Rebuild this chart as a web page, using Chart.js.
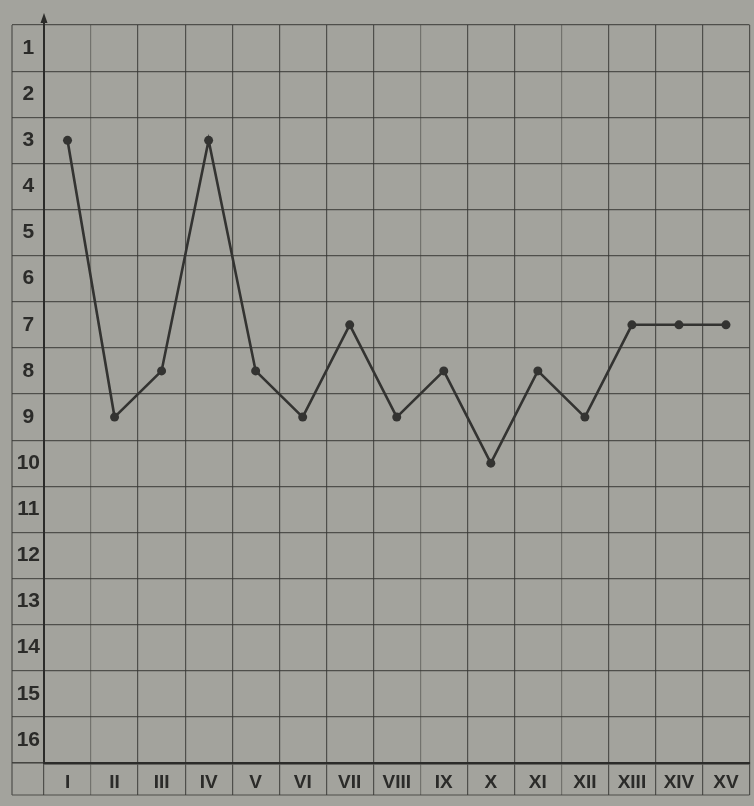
<!DOCTYPE html>
<html>
<head>
<meta charset="utf-8">
<script src="https://cdn.jsdelivr.net/npm/chart.js@4/dist/chart.umd.min.js"></script>
<style>
  html, body { margin: 0; padding: 0; background: #a3a39d; }
  #wrap { width: 754px; height: 806px; }
</style>
</head>
<body>
<div id="wrap"><canvas id="chart"></canvas></div>
<script>
// ── Data ──────────────────────────────────────────────────────
const periods = ['I', 'II', 'III', 'IV', 'V', 'VI', 'VII', 'VIII', 'IX', 'X', 'XI', 'XII', 'XIII', 'XIV', 'XV'];
const places  = ['1', '2', '3', '4', '5', '6', '7', '8', '9', '10', '11', '12', '13', '14', '15', '16'];
const rank    = [3, 9, 8, 3, 8, 9, 7, 9, 8, 10, 8, 9, 7, 7, 7];

const INK = '#2b2b29';
const GRID = 'rgba(55,55,52,0.78)';
const GRID_FAINT = 'rgba(55,55,52,0.45)';
const FONT = "'Liberation Sans', Arial, sans-serif";

// Faint column lines, as on the photographed sheet
const faintCols = [1, 8, 11];

// Outer frame of the table + arrow on the vertical axis
const frame = {
  id: 'frame',
  afterDraw(chart) {
    const { ctx, chartArea: { left, right, top, bottom } } = chart;
    const x0 = 12, yb = bottom + 32;
    ctx.save();
    ctx.strokeStyle = GRID;
    ctx.lineWidth = 1.2;
    ctx.beginPath();
    ctx.moveTo(x0, top); ctx.lineTo(x0, yb);
    ctx.moveTo(x0, yb); ctx.lineTo(right, yb);
    ctx.moveTo(x0, bottom); ctx.lineTo(left, bottom);
    ctx.stroke();

    ctx.strokeStyle = INK;
    ctx.lineWidth = 2;
    ctx.beginPath();
    ctx.moveTo(left, top); ctx.lineTo(left, top - 8);
    ctx.stroke();
    ctx.fillStyle = INK;
    ctx.beginPath();
    ctx.moveTo(left, top - 12);
    ctx.lineTo(left - 3.5, top - 2);
    ctx.lineTo(left + 3.5, top - 2);
    ctx.closePath();
    ctx.fill();
    ctx.restore();
  },
};

new Chart(document.getElementById('chart'), {
  type: 'line',
  data: {
    labels: periods,
    datasets: [
      {
        data: rank.map(String),
        borderColor: '#333331',
        borderWidth: 2.6,
        pointRadius: 4.5,
        pointBackgroundColor: '#333331',
        pointBorderWidth: 0,
        tension: 0,
        fill: false,
      },
    ],
  },
  options: {
    responsive: true,
    maintainAspectRatio: false,
    animation: false,
    layout: { padding: { left: 0, right: 2, top: 25, bottom: 11 } },
    plugins: {
      legend: { display: false },
      tooltip: { enabled: false },
    },
    scales: {
      x: {
        type: 'category',
        offset: true,
        grid: {
          offset: true,
          tickLength: 32,
          lineWidth: 1.2,
          color: (c) => (faintCols.includes(c.index) ? GRID_FAINT : GRID),
        },
        border: { display: true, color: INK, width: 2.5 },
        ticks: {
          color: INK,
          font: { family: FONT, size: 19, weight: 'bold' },
          padding: -24,
          maxRotation: 0,
          autoSkip: false,
        },
        afterFit: (s) => { s.height = 32; },
      },
      y: {
        type: 'category',
        labels: places,
        offset: true,
        grid: {
          offset: true,
          tickLength: 32,
          lineWidth: 1.2,
          color: GRID,
        },
        border: { display: true, color: INK, width: 2 },
        ticks: {
          color: INK,
          font: { family: FONT, size: 21, weight: 'bold' },
          crossAlign: 'center',
          padding: -28,
          autoSkip: false,
        },
        afterFit: (s) => { s.width = 44; },
      },
    },
  },
  plugins: [frame],
});
</script>
</body>
</html>
